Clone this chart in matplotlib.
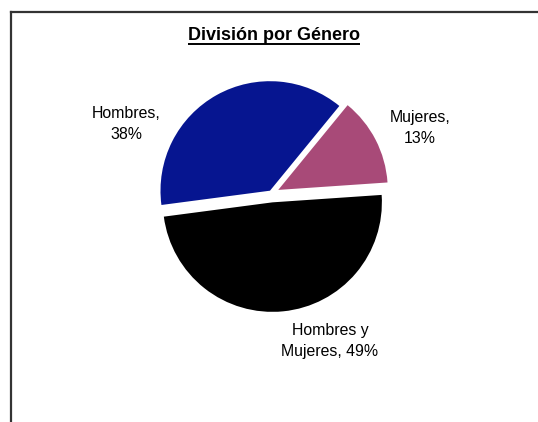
import matplotlib
matplotlib.use("Agg")
import matplotlib.pyplot as plt
from matplotlib.lines import Line2D

categories = ["Hombres", "Mujeres", "Hombres y Mujeres"]
values = [38, 13, 49]
label_texts = ["Hombres,\n38%", "Mujeres,\n13%", "Hombres y\nMujeres, 49%"]
colors = ["#061590", "#a84a78", "#000000"]
title = "División por Género"

W, H = 538, 422
fig = plt.figure(figsize=(W / 100, H / 100), dpi=100)
fig.patch.set_facecolor("white")
ax = fig.add_axes([0, 0, 1, 1])

r = 109.5
cx, cy = 271.5, H - 193.4
wedges, _ = ax.pie(values, colors=colors, startangle=187.5, counterclock=False,
                   explode=[3.1, 7.6, 9.0], radius=r, center=(cx, cy),
                   wedgeprops=dict(linewidth=0), frame=True)
ax.set_xlim(0, W)
ax.set_ylim(0, H)
ax.set_aspect("equal")
ax.axis("off")

font = "Liberation Sans"
label_pos = [(126, H - 124), (420, H - 128), (330, H - 341)]
for txt, (x, y) in zip(label_texts, label_pos):
    ax.text(x, y, txt, ha="center", va="center", fontsize=11.4, family=font,
            linespacing=1.45, color="black")

t = ax.text(273.5, H - 36, title, ha="center", va="center", fontsize=13,
            fontweight="bold", family=font, color="black")
fig.canvas.draw()
bb = t.get_window_extent(renderer=fig.canvas.get_renderer())
inv = ax.transData.inverted()
(x0, y0), (x1, y1) = inv.transform([(bb.x0, bb.y0), (bb.x1, bb.y1)])
ax.plot([x0, x1], [H - 44, H - 44], color="black", lw=1.4, solid_capstyle="butt")

# border (top and left)
fig.add_artist(Line2D([11 / W, 1], [1 - 11.5 / H, 1 - 11.5 / H], transform=fig.transFigure,
                      color="#333333", lw=1.6))
fig.add_artist(Line2D([11 / W, 11 / W], [0, 1 - 11.5 / H], transform=fig.transFigure,
                      color="#333333", lw=1.6))

fig.savefig("out.png", dpi=100, facecolor="white")
